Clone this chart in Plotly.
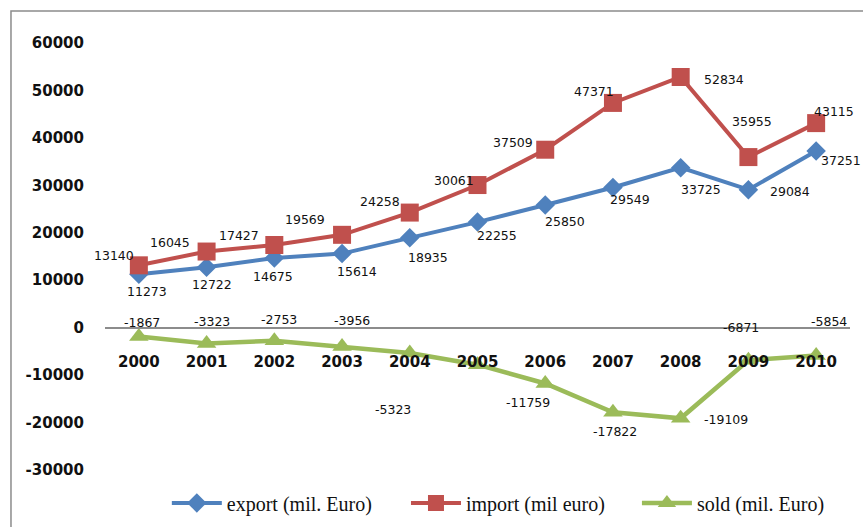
import plotly.graph_objects as go

years = ["2000", "2001", "2002", "2003", "2004", "2005", "2006", "2007", "2008", "2009", "2010"]
export_vals = [11273, 12722, 14675, 15614, 18935, 22255, 25850, 29549, 33725, 29084, 37251]
import_vals = [13140, 16045, 17427, 19569, 24258, 30061, 37509, 47371, 52834, 35955, 43115]
sold_vals = [-1867, -3323, -2753, -3956, -5323, -7806, -11759, -17822, -19109, -6871, -5854]
sold_shown = [True, True, True, True, True, False, True, True, True, True, True]

y_ticks = [-30000, -20000, -10000, 0, 10000, 20000, 30000, 40000, 50000, 60000]

# label offsets in pixels (dx right, dy down)
export_off = [(8, 17), (5, 17), (-1, 18), (15, 18), (18, 20), (19, 13), (20, 16), (17, 12), (20, 22), (42, 2), (25, 10)]
import_off = [(-25, -10), (-37, -9), (-35, -9), (-37, -15), (-30, -11), (-24, -5), (-32, -7), (-19, -11), (43, 2), (4, -36), (18, -12)]
sold_off = [(3, -14), (5, -22), (5, -21), (10, -26), (-17, 57), (0, 0), (-17, 19), (2, 19), (45, 1), (-7, -33), (13, -34)]

BLUE = "#4F81BD"
RED = "#C0504D"
GREEN = "#9BBB59"

fig = go.Figure()
fig.add_trace(go.Scatter(x=years, y=export_vals, mode="lines+markers", name="export (mil. Euro)",
                         line=dict(color=BLUE, width=4), marker=dict(symbol="diamond", size=15, color=BLUE),
                         legend="legend"))
fig.add_trace(go.Scatter(x=years, y=import_vals, mode="lines+markers", name="import (mil euro)",
                         line=dict(color=RED, width=4), marker=dict(symbol="square", size=18, color=RED),
                         legend="legend2"))
fig.add_trace(go.Scatter(x=years, y=sold_vals, mode="lines+markers", name="sold (mil. Euro)",
                         line=dict(color=GREEN, width=4.5), marker=dict(symbol="triangle-up", size=17, color=GREEN),
                         legend="legend3"))

lab_font = dict(family="DejaVu Sans", size=12.5, color="#111")
annotations = []
for vals, offs, shown in [(export_vals, export_off, [True] * 11),
                          (import_vals, import_off, [True] * 11),
                          (sold_vals, sold_off, sold_shown)]:
    for i, (v, (dx, dy), s) in enumerate(zip(vals, offs, shown)):
        if not s:
            continue
        annotations.append(dict(x=i, y=v, xref="x", yref="y", text=str(v), showarrow=False,
                                xshift=dx, yshift=-dy, font=lab_font))

leg_common = dict(orientation="h", xanchor="left", y=-0.077, yanchor="middle",
                  font=dict(family="Liberation Serif", size=20, color="#111"),
                  itemwidth=50, bgcolor="rgba(0,0,0,0)")

fig.update_layout(
    width=863, height=527,
    margin=dict(l=105, r=13, t=43, b=57, autoexpand=False),
    paper_bgcolor="white", plot_bgcolor="white",
    showlegend=True,
    legend=dict(x=0.083, **leg_common),
    legend2=dict(x=0.404, **leg_common),
    legend3=dict(x=0.714, **leg_common),
    annotations=annotations,
    shapes=[dict(type="rect", xref="paper", yref="paper", x0=-0.1262, x1=1.2, y0=-0.5, y1=1.0749,
                 line=dict(color="#8c8c8c", width=1.5), fillcolor="rgba(0,0,0,0)", layer="below")],
)
fig.update_xaxes(type="category", range=[-0.5, 10.5], showgrid=False, zeroline=False,
                 showline=True, linecolor="#8c8c8c", linewidth=2,
                 anchor="free", position=1 / 3, ticks="",
                 tickfont=dict(family="DejaVu Sans", size=15, color="#111", weight="bold"),
                 ticklabelstandoff=20)
fig.update_yaxes(range=[-30000, 60000], tickvals=y_ticks, ticktext=[str(t) for t in y_ticks],
                 showgrid=False, zeroline=False, showline=False, ticks="",
                 tickfont=dict(family="DejaVu Sans", size=15, color="#111", weight="bold"),
                 ticklabelstandoff=20)

fig.write_html("out.html", config={"displayModeBar": False},
               post_script="document.body.style.margin='0px';")
